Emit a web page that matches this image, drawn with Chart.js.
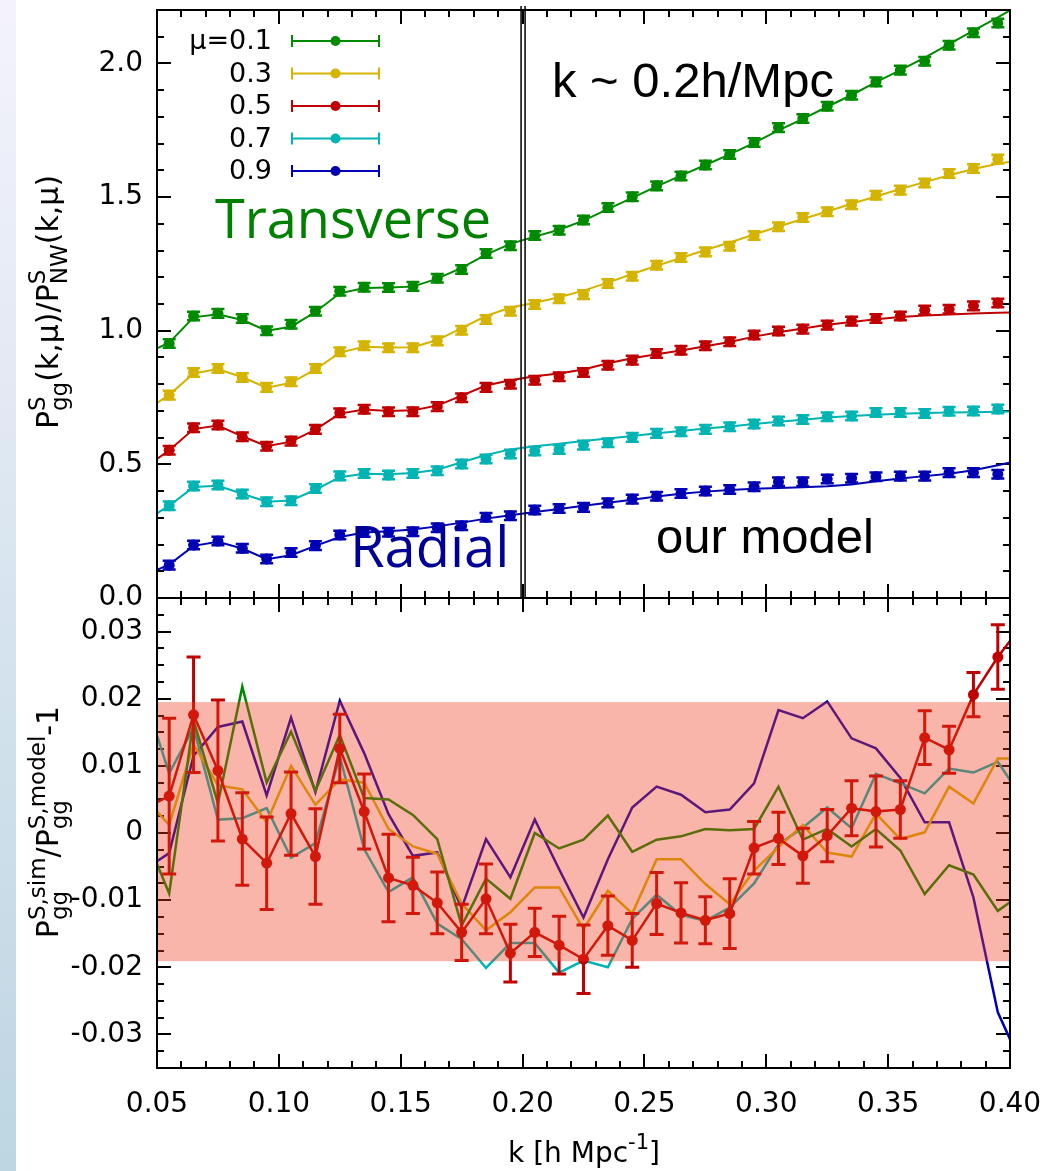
<!DOCTYPE html>
<html>
<head>
<meta charset="utf-8">
<script src="https://cdn.jsdelivr.net/npm/chart.js@4.4.1/dist/chart.umd.min.js"></script>
<style>
  body { margin: 0; background: #fff; width: 1062px; height: 1171px; position: relative; overflow: hidden; }
  #edge { position: absolute; left: 0; top: 0; width: 16px; height: 1171px; background: linear-gradient(#f4f3fc, #bcd6e2); }
  #topChart { position: absolute; left: 0; top: 0; }
  #botChart { position: absolute; left: 0; top: 560px; }
</style>
</head>
<body>
<div id="edge"></div>
<canvas id="topChart" width="1062" height="640"></canvas>
<canvas id="botChart" width="1062" height="611"></canvas>
<script>
"use strict";

// k bins of the measurements, and the same with the panel edges added for the lines
const K_POINTS = [0.055, 0.065, 0.075, 0.085, 0.095, 0.105, 0.115, 0.125, 0.135, 0.145, 0.155, 0.165,
  0.175, 0.185, 0.195, 0.205, 0.215, 0.225, 0.235, 0.245, 0.255, 0.265, 0.275, 0.285,
  0.295, 0.305, 0.315, 0.325, 0.335, 0.345, 0.355, 0.365, 0.375, 0.385, 0.395];
const K_LINE = [0.05, ...K_POINTS, 0.40];

const MU_LABELS = ['\u03bc=0.1', '0.3', '0.5', '0.7', '0.9'];
const COLORS = ['#008a00', '#d4b400', '#c00000', '#00b4b4', '#0000b4'];

// top panel: simulation points (P_gg^S / P_NW^S)
const TOP_MU01 = [0.952, 1.055, 1.065, 1.046, 1.000, 1.024, 1.073, 1.148, 1.163, 1.162, 1.166, 1.196, 1.229, 1.289, 1.318,
  1.356, 1.376, 1.414, 1.461, 1.501, 1.542, 1.579, 1.620, 1.659, 1.704, 1.760, 1.794, 1.840, 1.881, 1.931, 1.975, 2.008, 2.068, 2.115, 2.151];
const TOP_MU03 = [0.759, 0.844, 0.859, 0.825, 0.788, 0.809, 0.859, 0.921, 0.944, 0.936, 0.936, 0.962, 1.002, 1.042, 1.073,
  1.098, 1.120, 1.135, 1.177, 1.204, 1.245, 1.274, 1.295, 1.316, 1.356, 1.389, 1.424, 1.445, 1.471, 1.507, 1.526, 1.553, 1.588, 1.607, 1.642];
const TOP_MU05 = [0.553, 0.637, 0.647, 0.603, 0.568, 0.587, 0.631, 0.693, 0.706, 0.697, 0.697, 0.716, 0.749, 0.788, 0.800,
  0.815, 0.828, 0.844, 0.871, 0.890, 0.915, 0.927, 0.944, 0.959, 0.984, 0.999, 1.006, 1.021, 1.036, 1.046, 1.055, 1.077, 1.080, 1.093, 1.104];
const TOP_MU07 = [0.345, 0.419, 0.423, 0.389, 0.360, 0.364, 0.410, 0.457, 0.466, 0.460, 0.466, 0.476, 0.501, 0.520, 0.539,
  0.550, 0.556, 0.572, 0.581, 0.601, 0.616, 0.622, 0.631, 0.641, 0.651, 0.662, 0.668, 0.678, 0.681, 0.694, 0.694, 0.690, 0.699, 0.700, 0.707];
const TOP_MU09 = [0.123, 0.198, 0.213, 0.186, 0.146, 0.170, 0.196, 0.236, 0.245, 0.246, 0.248, 0.263, 0.270, 0.302, 0.308,
  0.329, 0.335, 0.339, 0.356, 0.370, 0.381, 0.391, 0.400, 0.406, 0.416, 0.435, 0.435, 0.445, 0.448, 0.454, 0.456, 0.456, 0.469, 0.469, 0.463];
const TOP_ERR = 0.016;

// top panel: model curves, on K_LINE
const MODEL_MU01 = [0.934, 0.955, 1.050, 1.062, 1.040, 1.000, 1.015, 1.070, 1.140, 1.160, 1.162, 1.165, 1.195, 1.235, 1.285, 1.325,
  1.352, 1.378, 1.412, 1.455, 1.497, 1.540, 1.580, 1.620, 1.660, 1.703, 1.750, 1.793, 1.838, 1.882, 1.930, 1.975, 2.022, 2.072, 2.123, 2.172, 2.199];
const MODEL_MU03 = [0.730, 0.760, 0.840, 0.857, 0.826, 0.787, 0.805, 0.855, 0.918, 0.940, 0.937, 0.938, 0.965, 1.010, 1.055, 1.087,
  1.105, 1.125, 1.150, 1.180, 1.212, 1.243, 1.272, 1.302, 1.330, 1.360, 1.390, 1.418, 1.446, 1.475, 1.502, 1.530, 1.556, 1.582, 1.605, 1.625, 1.632];
const MODEL_MU05 = [0.520, 0.553, 0.632, 0.645, 0.605, 0.568, 0.585, 0.630, 0.690, 0.705, 0.700, 0.702, 0.720, 0.757, 0.795, 0.815,
  0.830, 0.840, 0.855, 0.878, 0.897, 0.912, 0.926, 0.942, 0.958, 0.978, 0.994, 1.008, 1.022, 1.033, 1.043, 1.051, 1.057, 1.061, 1.064, 1.067, 1.068];
const MODEL_MU07 = [0.317, 0.345, 0.415, 0.420, 0.390, 0.360, 0.365, 0.405, 0.452, 0.465, 0.463, 0.468, 0.480, 0.508, 0.535, 0.556,
  0.568, 0.577, 0.587, 0.597, 0.606, 0.616, 0.625, 0.634, 0.642, 0.651, 0.659, 0.667, 0.675, 0.681, 0.686, 0.689, 0.692, 0.694, 0.695, 0.697, 0.698];
const MODEL_MU09 = [0.105, 0.125, 0.195, 0.210, 0.185, 0.145, 0.160, 0.195, 0.228, 0.245, 0.250, 0.256, 0.268, 0.282, 0.297, 0.310,
  0.322, 0.333, 0.345, 0.356, 0.368, 0.380, 0.390, 0.398, 0.404, 0.409, 0.412, 0.414, 0.418, 0.425, 0.437, 0.447, 0.456, 0.465, 0.478, 0.497, 0.507];

// bottom panel: sim/model - 1, on K_LINE
const RES_MU01 = [-0.0046, -0.0090, 0.0168, 0.0044, 0.0218, 0.0075, 0.0151, 0.0063, 0.0146, 0.0052, 0.0050, 0.0027, -0.0009,
  -0.0138, -0.0068, -0.0098, 0.0000, -0.0023, -0.0010, 0.0026, -0.0028, -0.0010, -0.0005, 0.0006, 0.0004,
  0.0006, 0.0069, -0.0010, 0.0006, -0.0020, 0.0006, -0.0026, -0.0091, -0.0048, -0.0062, -0.0116, -0.0103];
const RES_MU03 = [0.0032, 0.0012, 0.0132, 0.0071, 0.0065, 0.0016, 0.0100, 0.0042, 0.0080, 0.0075, 0.0006, -0.0020, -0.0031,
  -0.0105, -0.0145, -0.0118, -0.0081, -0.0081, -0.0143, -0.0086, -0.0120, -0.0039, -0.0039, -0.0076, -0.0106,
  -0.0056, -0.0021, 0.0012, -0.0029, -0.0035, 0.0029, -0.0009, 0.0001, 0.0069, 0.0044, 0.0111, 0.0111];
const RES_MU05 = [0.0046, 0.0055, 0.0176, 0.0093, -0.0009, -0.0045, 0.0029, -0.0035, 0.0126, 0.0032, -0.0067, -0.0078, -0.0104,
  -0.0148, -0.0098, -0.0179, -0.0148, -0.0167, -0.0188, -0.0138, -0.0160, -0.0105, -0.0119, -0.0130, -0.0120,
  -0.0022, -0.0008, -0.0034, -0.0004, 0.0037, 0.0032, 0.0035, 0.0142, 0.0124, 0.0206, 0.0262, 0.0286];
const RES_MU05_ERR = [0.0116, 0.0086, 0.0105, 0.0069, 0.0069, 0.0062, 0.0071, 0.0051, 0.0056, 0.0065, 0.0042, 0.0046,
  0.0042, 0.0052, 0.0043, 0.0036, 0.0043, 0.0051, 0.0044, 0.0040, 0.0046, 0.0045, 0.0035, 0.0052,
  0.0039, 0.0039, 0.0041, 0.0039, 0.0041, 0.0053, 0.0043, 0.0040, 0.0035, 0.0033, 0.0048];
const RES_MU07 = [0.0145, 0.0089, 0.0157, 0.0020, 0.0022, 0.0037, -0.0037, -0.0015, 0.0114, -0.0024, -0.0088, -0.0066, -0.0135,
  -0.0158, -0.0201, -0.0164, -0.0164, -0.0208, -0.0190, -0.0200, -0.0128, -0.0092, -0.0122, -0.0131, -0.0111,
  -0.0075, -0.0017, 0.0008, 0.0038, 0.0007, 0.0088, 0.0074, 0.0059, 0.0096, 0.0090, 0.0106, 0.0079];
const RES_MU09 = [-0.0042, -0.0030, 0.0115, 0.0158, 0.0166, 0.0056, 0.0172, 0.0061, 0.0197, 0.0119, 0.0028, -0.0034, -0.0029,
  -0.0112, -0.0009, -0.0066, 0.0020, -0.0054, -0.0126, -0.0039, 0.0038, 0.0069, 0.0057, 0.0031, 0.0035,
  0.0074, 0.0183, 0.0171, 0.0196, 0.0141, 0.0126, 0.0082, 0.0016, 0.0016, -0.0096, -0.0267, -0.0307];
const BAND = [-0.0191, 0.0195];

// axes
const X_TICKS = [0.05, 0.10, 0.15, 0.20, 0.25, 0.30, 0.35, 0.40];
const TOP_Y_TICKS = [0.0, 0.5, 1.0, 1.5, 2.0];
const BOT_Y_TICKS = [-0.03, -0.02, -0.01, 0, 0.01, 0.02, 0.03];

const FONT = "'DejaVu Sans', sans-serif";
const TICK_FONT = { family: FONT, size: 28 };
const BAND_COLOR = 'rgba(240, 60, 30, 0.38)';

const TOP = [TOP_MU01, TOP_MU03, TOP_MU05, TOP_MU07, TOP_MU09];
const MODEL = [MODEL_MU01, MODEL_MU03, MODEL_MU05, MODEL_MU07, MODEL_MU09];
const RES = [RES_MU01, RES_MU03, RES_MU05, RES_MU07, RES_MU09];

const pts = (ks, ys) => ks.map((k, i) => ({ x: k, y: ys[i] }));

// minor/major tick marks (inward, all four sides)
const xMarks = [];
for (let i = 0; i <= 35; i++) xMarks.push({ v: 0.05 + i * 0.01, major: i % 5 === 0 });
const topYMarks = [];
for (let i = 0; i <= 22; i++) topYMarks.push({ v: i * 0.1, major: i % 5 === 0 });
const botYMarks = [];
for (let i = 0; i <= 28; i++) botYMarks.push({ v: -0.035 + i * 0.0025, major: (i + 2) % 4 === 0 });

const drawMarks = (chart, ys) => {
  const { ctx, chartArea: a, scales: { x, y } } = chart;
  ctx.save();
  ctx.strokeStyle = '#000';
  ctx.lineWidth = 2;
  ctx.beginPath();
  xMarks.forEach(t => {
    const px = Math.round(x.getPixelForValue(t.v));
    const len = t.major ? 14 : 7;
    ctx.moveTo(px, a.top); ctx.lineTo(px, a.top + len);
    ctx.moveTo(px, a.bottom); ctx.lineTo(px, a.bottom - len);
  });
  ys.forEach(t => {
    const py = Math.round(y.getPixelForValue(t.v));
    if (py < a.top - 1 || py > a.bottom + 1) return;
    const len = t.major ? 14 : 7;
    ctx.moveTo(a.left, py); ctx.lineTo(a.left + len, py);
    ctx.moveTo(a.right, py); ctx.lineTo(a.right - len, py);
  });
  ctx.stroke();
  ctx.restore();
};

const drawErrors = (chart) => {
  const { ctx, scales: { x, y } } = chart;
  chart.data.datasets.forEach(ds => {
    if (!ds.errs) return;
    ctx.save();
    ctx.strokeStyle = ds.backgroundColor;
    ctx.lineWidth = ds.errWidth;
    ctx.beginPath();
    ds.data.forEach((p, j) => {
      const e = ds.errs[j];
      if (e == null) return;
      const px = x.getPixelForValue(p.x);
      const y1 = y.getPixelForValue(p.y + e);
      const y2 = y.getPixelForValue(p.y - e);
      ctx.moveTo(px, y1); ctx.lineTo(px, y2);
      ctx.moveTo(px - ds.capW, y1); ctx.lineTo(px + ds.capW, y1);
      ctx.moveTo(px - ds.capW, y2); ctx.lineTo(px + ds.capW, y2);
    });
    ctx.stroke();
    ctx.restore();
  });
};

const drawFrame = (chart) => {
  const { ctx, chartArea: a } = chart;
  ctx.save();
  ctx.strokeStyle = '#000';
  ctx.lineWidth = 2;
  ctx.strokeRect(a.left, a.top, a.right - a.left, a.bottom - a.top);
  ctx.restore();
};

// text with stacked super/subscripts, e.g. P^S_gg
const richText = (ctx, parts, cx, cy, rot, size) => {
  const small = Math.round(size * 0.75);
  const widths = parts.map(p => {
    if (p.t) { ctx.font = `${size}px ${FONT}`; return ctx.measureText(p.t).width; }
    ctx.font = `${small}px ${FONT}`;
    return Math.max(p.sup ? ctx.measureText(p.sup).width : 0, p.sub ? ctx.measureText(p.sub).width : 0);
  });
  const total = widths.reduce((s, w) => s + w, 0);
  ctx.save();
  ctx.translate(cx, cy);
  ctx.rotate(rot);
  ctx.fillStyle = '#000';
  ctx.textBaseline = 'alphabetic';
  ctx.textAlign = 'left';
  let xx = -total / 2;
  parts.forEach((p, i) => {
    if (p.t) {
      ctx.font = `${size}px ${FONT}`;
      ctx.fillText(p.t, xx, 0);
    } else {
      ctx.font = `${small}px ${FONT}`;
      if (p.sup) ctx.fillText(p.sup, xx, -size * 0.45);
      if (p.sub) ctx.fillText(p.sub, xx, size * 0.3);
    }
    xx += widths[i];
  });
  ctx.restore();
};

const topPlugin = {
  id: 'topDecor',
  beforeDatasetsDraw(chart) { drawMarks(chart, topYMarks); },
  afterDatasetsDraw(chart) {
    drawErrors(chart);
    drawFrame(chart);
    const { ctx, chartArea: a, scales: { x } } = chart;
    // double line at k = 0.2
    const xk = x.getPixelForValue(0.2);
    ctx.save();
    ctx.strokeStyle = '#000';
    ctx.lineWidth = 1.5;
    ctx.beginPath();
    ctx.moveTo(xk - 1.5, a.top - 4); ctx.lineTo(xk - 1.5, a.bottom);
    ctx.moveTo(xk + 2.5, a.top - 4); ctx.lineTo(xk + 2.5, a.bottom);
    ctx.stroke();
    ctx.restore();
  },
  afterDraw(chart) {
    const { ctx } = chart;
    ctx.save();
    // legend
    MU_LABELS.forEach((lab, i) => {
      const ly = 41 + i * 32.5;
      ctx.font = `27px ${FONT}`;
      ctx.fillStyle = '#000';
      ctx.textAlign = 'right';
      ctx.textBaseline = 'middle';
      ctx.fillText(lab, 272, ly + 1);
      ctx.strokeStyle = COLORS[i];
      ctx.fillStyle = COLORS[i];
      ctx.lineWidth = 2;
      ctx.beginPath();
      ctx.moveTo(292, ly); ctx.lineTo(379, ly);
      ctx.moveTo(292, ly - 6); ctx.lineTo(292, ly + 6);
      ctx.moveTo(379, ly - 6); ctx.lineTo(379, ly + 6);
      ctx.stroke();
      ctx.beginPath();
      ctx.arc(335.5, ly, 5, 0, Math.PI * 2);
      ctx.fill();
    });
    // annotations
    ctx.textAlign = 'left';
    ctx.textBaseline = 'alphabetic';
    ctx.font = `54px 'Open Sans', sans-serif`;
    ctx.fillStyle = '#008000';
    ctx.fillText('Transverse', 215, 238);
    ctx.font = `56px 'Open Sans', sans-serif`;
    ctx.fillStyle = '#000096';
    ctx.fillText('Radial', 350, 567);
    ctx.fillStyle = '#000';
    ctx.font = `49px 'Liberation Sans', Arial, sans-serif`;
    ctx.fillText('k ~ 0.2h/Mpc', 552, 97);
    ctx.fillText('our model', 656, 553);
    ctx.restore();
    richText(ctx, [{ t: 'P' }, { sup: 'S', sub: 'gg' }, { t: '(k,\u03bc)/P' }, { sup: 'S', sub: 'NW' }, { t: '(k,\u03bc)' }],
      58, 302, -Math.PI / 2, 30);
  }
};

const botPlugin = {
  id: 'botDecor',
  beforeDatasetsDraw(chart) { drawMarks(chart, botYMarks); },
  afterDatasetsDraw(chart) {
    drawErrors(chart);
    const { ctx, chartArea: a, scales: { y } } = chart;
    const yTop = y.getPixelForValue(BAND[1]);
    const yBot = y.getPixelForValue(BAND[0]);
    ctx.save();
    ctx.fillStyle = BAND_COLOR;
    ctx.fillRect(a.left, yTop, a.right - a.left, yBot - yTop);
    ctx.restore();
    drawFrame(chart);
  },
  afterDraw(chart) {
    const { ctx } = chart;
    richText(ctx, [{ t: 'P' }, { sup: 'S,sim', sub: 'gg' }, { t: '/P' }, { sup: 'S,model', sub: 'gg' }, { t: '-1' }],
      58, 262, -Math.PI / 2, 30);
    richText(ctx, [{ t: 'k [h Mpc' }, { sup: '-1' }, { t: ']' }], 584, 602, 0, 28);
  }
};

const yScale = (min, max, ticks, fmt) => ({
  type: 'linear', min, max, position: 'left',
  afterBuildTicks: s => { s.ticks = ticks.map(v => ({ value: v })); },
  afterFit: s => { s.width = 157; s.paddingTop = 0; s.paddingBottom = 0; },
  grid: { display: false, drawTicks: false },
  border: { display: false },
  ticks: { padding: 14, color: '#000', font: TICK_FONT, callback: fmt }
});

const topDatasets = [];
MODEL.forEach((m, i) => {
  topDatasets.push({
    type: 'scatter', data: pts(K_LINE, m), showLine: true,
    borderColor: COLORS[i], borderWidth: 2, pointRadius: 0, order: 2
  });
  topDatasets.push({
    type: 'scatter', data: pts(K_POINTS, TOP[i]),
    backgroundColor: COLORS[i], borderWidth: 0, pointRadius: 5.5, order: 1,
    errs: K_POINTS.map(() => TOP_ERR), errWidth: 2.5, capW: 6.5
  });
});

new Chart(document.getElementById('topChart'), {
  type: 'scatter',
  data: { datasets: topDatasets },
  options: {
    responsive: false, animation: false, devicePixelRatio: 1,
    layout: { padding: { left: 0, right: 52, top: 10, bottom: 42 } },
    plugins: { legend: { display: false }, tooltip: { enabled: false } },
    scales: {
      x: { type: 'linear', min: 0.05, max: 0.40, display: false },
      y: yScale(0, 2.2, TOP_Y_TICKS, v => v.toFixed(1))
    }
  },
  plugins: [topPlugin]
});

const lastIdx = K_LINE.length - 1;
const botDatasets = RES.map((r, i) => {
  const ds = {
    type: 'scatter', data: pts(K_LINE, r), showLine: true,
    borderColor: COLORS[i], backgroundColor: COLORS[i], borderWidth: 2.5, pointRadius: 0,
    order: i === 2 ? 0 : i + 1
  };
  if (i === 2) {
    ds.pointRadius = ctx => (ctx.dataIndex === 0 || ctx.dataIndex === lastIdx) ? 0 : 5.5;
    ds.pointBorderWidth = 0;
    ds.errs = [null, ...RES_MU05_ERR, null];
    ds.errWidth = 3;
    ds.capW = 7;
  }
  return ds;
});

new Chart(document.getElementById('botChart'), {
  type: 'scatter',
  data: { datasets: botDatasets },
  options: {
    responsive: false, animation: false, devicePixelRatio: 1,
    layout: { padding: { left: 0, right: 52, top: 38, bottom: 0 } },
    plugins: { legend: { display: false }, tooltip: { enabled: false } },
    scales: {
      x: {
        type: 'linear', min: 0.05, max: 0.40, position: 'bottom',
        afterBuildTicks: s => { s.ticks = X_TICKS.map(v => ({ value: v })); },
        afterFit: s => { s.height = 103; s.paddingLeft = 0; s.paddingRight = 0; },
        grid: { display: false, drawTicks: false },
        border: { display: false },
        ticks: { padding: 20, color: '#000', font: TICK_FONT, maxRotation: 0, autoSkip: false, callback: v => v.toFixed(2) }
      },
      y: yScale(-0.035, 0.035, BOT_Y_TICKS, v => Math.abs(v) < 1e-9 ? '0' : v.toFixed(2))
    }
  },
  plugins: [botPlugin]
});
</script>
</body>
</html>
